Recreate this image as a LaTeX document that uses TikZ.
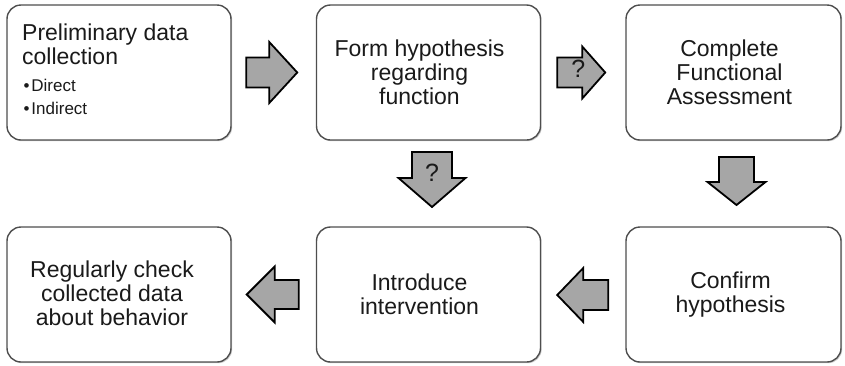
\documentclass[tikz,border=0pt]{standalone}
\usepackage{fontspec}
\setmainfont{Liberation Sans}
\usetikzlibrary{calc,shadows}
\definecolor{boxline}{HTML}{4E4E4E}
\definecolor{arrowfill}{HTML}{A6A6A6}
\definecolor{ink}{HTML}{1A1A1A}

\tikzset{
  stage/.style={draw=boxline, line width=1.4pt, rounded corners=14pt, fill=white,
    minimum width=224pt, minimum height=135pt, inner sep=0pt,
    drop shadow={shadow xshift=1.2pt, shadow yshift=-1.2pt, opacity=0.35, fill=black!60}},
  stagetext/.style={align=center, inner sep=0pt, text=ink, font=\fontsize{23}{24}\selectfont},
  qmark/.style={inner sep=0pt, text=ink, font=\fontsize{25}{25}\selectfont},
  arrowbody/.style={draw=black, line width=1.8pt, fill=arrowfill, line join=miter},
  % block arrow pointing along +x: total length, shaft half-width, head half-width, head length
  pics/blockarrow/.style n args={4}{code={
      \draw[arrowbody] (-#1/2,-#2) -- ({#1/2-#4},-#2) -- ({#1/2-#4},-#3) -- ({#1/2},0)
        -- ({#1/2-#4},#3) -- ({#1/2-#4},#2) -- (-#1/2,#2) -- cycle;
  }},
}

\begin{document}
\begin{tikzpicture}[x=1pt,y=-1pt]
\useasboundingbox (0,0) rectangle (845,365);

% stages
\node[stage] (b1) at (119,72.5) {};
\node[stage] (b2) at (428.5,72.5) {};
\node[stage, minimum width=215pt] (b3) at (733.5,72.5) {};
\node[stage] (b4) at (119,294.5) {};
\node[stage] (b5) at (428.5,294.5) {};
\node[stage, minimum width=215pt] (b6) at (733.5,294.5) {};

% stage texts
\node[stagetext, align=left, anchor=north west] (t1) at ($(b1.north west)+(15.7,19.5)$) {Preliminary data\\collection};
\node[anchor=north west, inner sep=0pt, align=left, text=ink, font=\fontsize{17}{23}\selectfont]
  (t1list) at ($(b1.north west)+(17,75)$) {\textbullet\hspace{2pt}Direct\\\textbullet\hspace{2pt}Indirect};
\node[stagetext] (t2) at ($(b2.center)+(-9,0)$) {Form hypothesis\\regarding\\function};
\node[stagetext] (t3) at ($(b3.center)+(-4,0)$) {Complete\\Functional\\Assessment};
\node[stagetext] (t4) at ($(b4.center)+(-7,-1)$) {Regularly check\\collected data\\about behavior};
\node[stagetext] (t5) at ($(b5.center)+(-9,0)$) {Introduce\\intervention};
\node[stagetext] (t6) at ($(b6.center)+(-3,0)$) {Confirm\\hypothesis};

% block arrows between stages
\pic at ($(b1.east)!0.5!(b2.west)+(-2,0)$) {blockarrow={51}{15}{30.5}{28}};
\pic at ($(b2.east)!0.5!(b3.west)+(-2,0)$) {blockarrow={48}{15}{26}{23}};
\node[qmark] (q1) at ($(b2.east)!0.5!(b3.west)+(-5,-4)$) {?};
\pic[rotate=-90] at ($(b2.south)!0.5!(b5.north)+(3.5,-4)$) {blockarrow={55}{20}{33.5}{29}};
\node[qmark] (q2) at ($(b2.south)!0.5!(b5.north)+(3.5,-10.5)$) {?};
\pic[rotate=-90] at ($(b3.south)!0.5!(b6.north)+(3,-2.5)$) {blockarrow={48}{17.5}{29}{23}};
\pic[rotate=180] at ($(b6.west)!0.5!(b5.east)+(-0.5,0.5)$) {blockarrow={51}{15}{27}{26}};
\pic[rotate=180] at ($(b5.west)!0.5!(b4.east)+(-1,0)$) {blockarrow={52}{14.5}{28}{28}};
\end{tikzpicture}
\end{document}
